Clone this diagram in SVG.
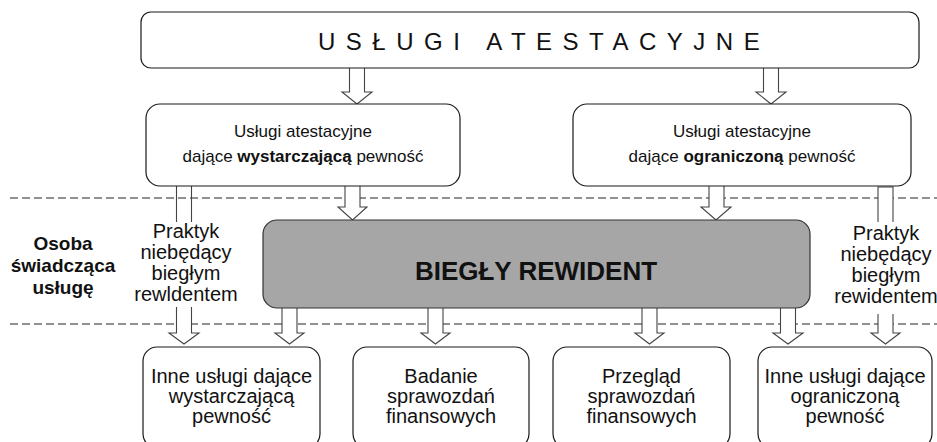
<svg xmlns="http://www.w3.org/2000/svg" width="937" height="442" viewBox="0 0 937 442">
  <style>
    .box { fill: #ffffff; stroke: #1a1a1a; stroke-width: 1.2; }
    .core { fill: #a6a6a6; stroke: #333333; stroke-width: 1.2; }
    .arrow { fill: #ffffff; stroke: #444444; stroke-width: 1.1; stroke-linejoin: miter; }
    .shaft { fill: none; stroke: #444444; stroke-width: 1.1; }
    .sep { stroke: #222222; stroke-width: 1; stroke-dasharray: 8 4; }
    .t { font-family: "Liberation Sans", Arial, sans-serif; fill: #111111; text-anchor: middle; }
    .title { font-family: "Liberation Sans", Arial, sans-serif; font-size: 24px; letter-spacing: 10.5px; fill: #111111; }
    .m { font-size: 17px; }
    .s { font-size: 20px; }
    .b { font-weight: bold; }
  </style>

  <!-- lane separators -->
  <g id="separators">
    <line class="sep" x1="10" y1="198" x2="937" y2="198"/>
    <line class="sep" x1="10" y1="324" x2="937" y2="324"/>
  </g>

  <!-- block arrows -->
  <g id="connectors">
    <path class="arrow" d="M349.5,68 V92 H342 L357,104 L372,92 H364.5 V68"/>
    <path class="arrow" d="M763.5,68 V92 H756 L771,104 L786,92 H778.5 V68"/>

    <path class="arrow" d="M345,186 V207 H338 L352.5,220 L367,207 H360 V186"/>
    <path class="arrow" d="M709,186 V207 H701 L716,220 L731,207 H724 V186"/>

    <!-- practitioner paths, broken by their labels -->
    <path class="shaft" d="M176.5,186 V222 M191.5,186 V222"/>
    <path class="arrow" d="M176.5,307 V333 H169 L184,344 L199,333 H191.5 V307"/>
    <path class="arrow" d="M878,222 V187 H893 V222"/>
    <path class="arrow" d="M878,314 V333 H871 L885.5,344 L900,333 H893 V314"/>

    <path class="arrow" d="M282,308 V333 H275 L289.5,344 L304,333 H297 V308"/>
    <path class="arrow" d="M428,308 V333 H421 L435.5,344 L450,333 H443 V308"/>
    <path class="arrow" d="M642,308 V333 H635 L649.5,344 L664,333 H657 V308"/>
    <path class="arrow" d="M780.5,308 V333 H773 L788,344 L803,333 H795.5 V308"/>
  </g>

  <g id="attestation-services">
    <rect class="box" x="141" y="12" width="778" height="56" rx="10"/>
    <text class="title" x="318" y="50">USŁUGI ATESTACYJNE</text>
  </g>

  <g id="reasonable-assurance">
    <rect class="box" x="146" y="104" width="314" height="82" rx="14"/>
    <text class="t m" x="303" y="137">Usługi atestacyjne</text>
    <text class="t m" x="303" y="162">dające <tspan class="b">wystarczającą</tspan> pewność</text>
  </g>

  <g id="limited-assurance">
    <rect class="box" x="573" y="104" width="338" height="82" rx="14"/>
    <text class="t m" x="742" y="137">Usługi atestacyjne</text>
    <text class="t m" x="742" y="162">dające <tspan class="b">ograniczoną</tspan> pewność</text>
  </g>

  <g id="provider-label">
    <text class="t b" font-size="19" x="63" y="250">Osoba</text>
    <text class="t b" font-size="19" x="63" y="272">świadcząca</text>
    <text class="t b" font-size="19" x="63" y="294">usługę</text>
  </g>

  <g id="practitioner-left">
    <text class="t s" x="186" y="238">Praktyk</text>
    <text class="t s" x="186" y="259">niebędący</text>
    <text class="t s" x="186" y="280">biegłym</text>
    <text class="t s" x="186" y="301">rewldentem</text>
  </g>

  <g id="practitioner-right">
    <text class="t s" x="886" y="240">Praktyk</text>
    <text class="t s" x="886" y="261">niebędący</text>
    <text class="t s" x="886" y="282">biegłym</text>
    <text class="t s" x="886" y="303">rewidentem</text>
  </g>

  <g id="statutory-auditor">
    <rect class="core" x="263" y="220" width="547" height="88" rx="14"/>
    <text class="t b" x="536" y="280" font-size="26">BIEGŁY REWIDENT</text>
  </g>

  <g id="other-reasonable">
    <rect class="box" x="143" y="347" width="177" height="101" rx="14"/>
    <text class="t s" x="231.5" y="383">Inne usługi dające</text>
    <text class="t s" x="231.5" y="403">wystarczającą</text>
    <text class="t s" x="231.5" y="423">pewność</text>
  </g>

  <g id="audit">
    <rect class="box" x="353" y="347" width="176" height="101" rx="14" stroke="#000000" stroke-width="2"/>
    <text class="t s" x="441" y="383">Badanie</text>
    <text class="t s" x="441" y="403">sprawozdań</text>
    <text class="t s" x="441" y="423">finansowych</text>
  </g>

  <g id="review">
    <rect class="box" x="553" y="347" width="177" height="101" rx="14"/>
    <text class="t s" x="641.5" y="383">Przegląd</text>
    <text class="t s" x="641.5" y="403">sprawozdań</text>
    <text class="t s" x="641.5" y="423">finansowych</text>
  </g>

  <g id="other-limited">
    <rect class="box" x="758" y="347" width="174" height="101" rx="14"/>
    <text class="t s" x="845" y="383">Inne usługi dające</text>
    <text class="t s" x="845" y="403">ograniczoną</text>
    <text class="t s" x="845" y="423">pewność</text>
  </g>
</svg>
